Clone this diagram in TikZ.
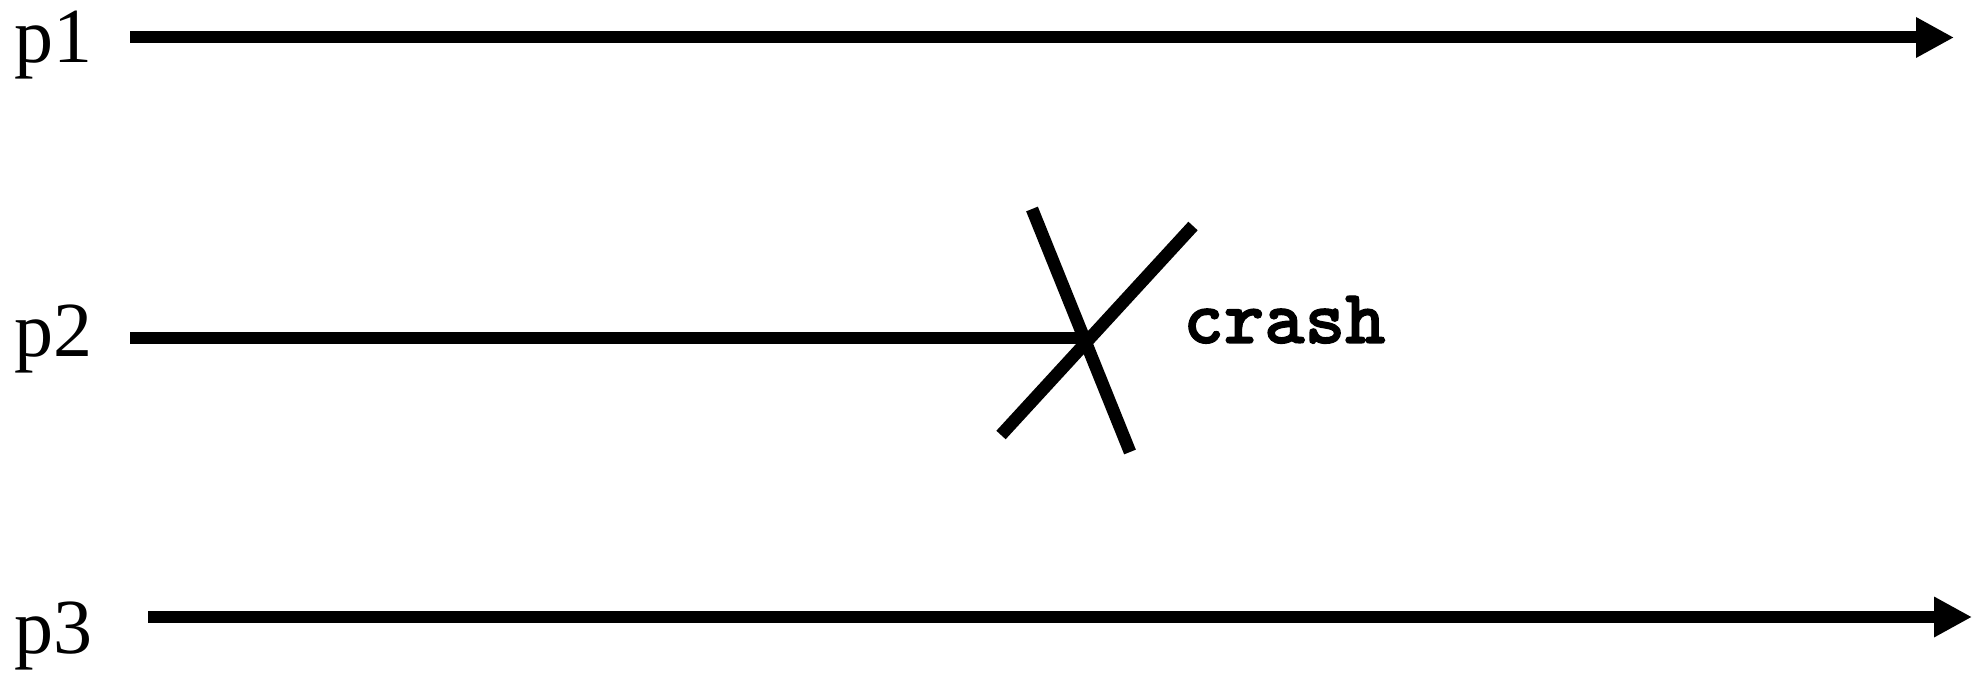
\documentclass[tikz,border=0pt]{standalone}
\usepackage{fontspec}
\setmainfont{Liberation Serif}
\newfontfamily\crashfont{lmmonolt10-bold}[Extension=.otf, FakeBold=1.6]
\usetikzlibrary{arrows.meta}
\tikzset{
  lbl/.style={anchor=base west, inner sep=0pt, font=\fontsize{39}{44}\selectfont},
  timeline/.style={line width=6pt, -{Triangle[length=19pt,width=19pt]}},
  cutline/.style={line width=6pt},
  crossline/.style={line width=6.3pt, line cap=butt},
  crashlbl/.style={anchor=base west, inner sep=0pt, font=\crashfont\fontsize{38.5}{44}\selectfont}
}
\begin{document}
\begin{tikzpicture}[x=0.5pt,y=-0.5pt]
\useasboundingbox (0,0) rectangle (1984,673);
% labels
\node[lbl] (p1) at (14,63) {p1};
\node[lbl] (p2) at (14,357) {p2};
\node[lbl] (p3) at (14,653) {p3};
% line endpoints
\coordinate (a1) at (130,37.5);
\coordinate (b1) at (1954,37.5);
\coordinate (a2) at (130,338.5);
\coordinate (b2) at (1082,338.5);
\coordinate (a3) at (148,617);
\coordinate (b3) at (1972,617);
\draw[timeline] (a1) -- (b1);
\draw[cutline] (a2) -- (b2);
\draw[timeline] (a3) -- (b3);
% cross
\coordinate (x1s) at (1032,209);
\coordinate (x1e) at (1130,452);
\coordinate (x2s) at (1193,226);
\coordinate (x2e) at (1001,435);
\draw[crossline] (x1s) -- (x1e);
\draw[crossline] (x2s) -- (x2e);
\node[crashlbl] (crash) at (1183,343) {crash};
\end{tikzpicture}
\end{document}
